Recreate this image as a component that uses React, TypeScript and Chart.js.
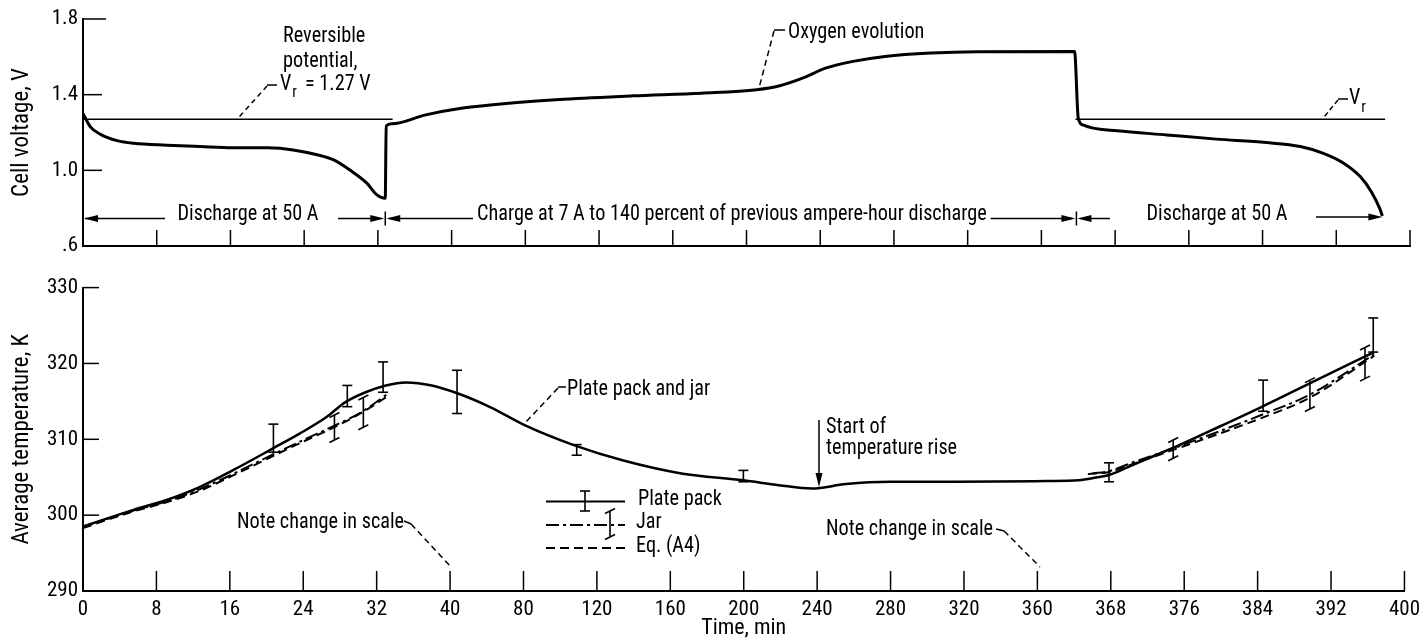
import React, { useEffect, useRef } from 'react';
import { Chart, registerables } from 'chart.js';

Chart.register(...registerables);

// ---------------- axes ----------------
const X_TICK_TIMES = [0, 8, 16, 24, 32, 40, 80, 120, 160, 200, 240, 280, 320, 360, 368, 376, 384, 392, 400];
const X_TICK_LABELS = ['0', '8', '16', '24', '32', '40', '80', '120', '160', '200', '240', '280', '320', '360', '368', '376', '384', '392', '400'];
const VOLT_TICKS = [0.6, 1.0, 1.4, 1.8];
const VOLT_TICK_LABELS = ['.6', '1.0', '1.4', '1.8'];
const TEMP_TICKS = [290, 300, 310, 320, 330];
const TEMP_TICK_LABELS = ['290', '300', '310', '320', '330'];

// ---------------- cell voltage ----------------
const DISCHARGE1_TIME = [0, 0.8, 1.9, 3.7, 5.5, 9.1, 12.7, 16.3, 20.0, 22.8, 25.4, 27.2, 29.0, 30.8, 31.9, 32.8];
const DISCHARGE1_VOLT = [1.30, 1.23, 1.19, 1.157, 1.143, 1.133, 1.126, 1.12, 1.119, 1.108, 1.082, 1.055, 1.0, 0.932, 0.87, 0.852];
const CHARGE_TIME = [32.9, 33.5, 37.2, 46.1, 71, 100.9, 138.3, 175.6, 205.5, 218, 230.4, 242.9, 257.8, 275.2, 300, 325, 363.6];
const CHARGE_VOLT = [1.235, 1.246, 1.293, 1.329, 1.355, 1.376, 1.394, 1.408, 1.426, 1.447, 1.487, 1.54, 1.576, 1.602, 1.62, 1.627, 1.628];
const DISCHARGE2_TIME = [364.0, 364.5, 365.6, 368.2, 373.6, 379.0, 384.4, 388.1, 390.6, 392.8, 394.6, 395.8, 396.7, 397.0];
const DISCHARGE2_VOLT = [1.276, 1.24, 1.223, 1.209, 1.187, 1.165, 1.147, 1.126, 1.09, 1.038, 0.967, 0.887, 0.80, 0.759];
const VR_VALUE = 1.27;
const VR_SPAN_1 = [0, 33.6];
const VR_SPAN_2 = [363.7, 397.3];
const PHASE_BOUNDS = [0, 32.8, 363.8, 397.0];

// ---------------- temperature ----------------
const PLATE_TIME = [0, 5.5, 9.1, 12.7, 16.3, 20.7, 23.6, 26.5, 28.6, 30.8, 33.0, 35.2, 38.0, 43.6, 61.8, 81.2, 107.8, 134.4, 166, 199.8, 219.2, 237.2, 255.6, 279.8, 316, 360.9, 364.5, 366.4, 367.8, 370.0, 372.5, 375.4, 379.0, 384.4, 389.9, 396.7];
const PLATE_TEMP = [298.5, 300.7, 302.0, 303.7, 305.9, 308.8, 310.75, 312.9, 314.9, 316.2, 317.1, 317.5, 317.1, 316.1, 314.25, 311.8, 309.2, 307.2, 305.5, 304.6, 303.95, 303.5, 304.1, 304.4, 304.4, 304.5, 304.6, 304.96, 305.3, 306.4, 307.7, 309.2, 311.2, 314.25, 317.5, 321.5];
const JAR_D1_TIME = [0, 5.5, 9.1, 12.7, 16.3, 20.7, 24.0, 27.4, 30.5, 33.1];
const JAR_D1_TEMP = [298.5, 300.6, 301.8, 303.4, 305.4, 308.0, 309.9, 311.8, 313.7, 315.9];
const JAR_D2_TIME = [366.0, 367.8, 370.5, 374.8, 379.5, 384.4, 389.7, 396.7];
const JAR_D2_TEMP = [305.5, 305.8, 307.0, 308.8, 310.9, 313.2, 315.9, 321.2];
const EQ_D1_TIME = [0, 5.5, 9.1, 12.7, 16.3, 20.7, 24.0, 27.4, 30.5, 33.1];
const EQ_D1_TEMP = [298.3, 300.5, 301.7, 303.2, 305.2, 307.8, 309.7, 311.6, 313.6, 315.6];
const EQ_D2_TIME = [365.5, 367.8, 370.5, 374.8, 379.5, 384.4, 389.7, 396.7];
const EQ_D2_TEMP = [305.4, 305.7, 306.8, 308.6, 310.6, 312.8, 315.5, 321.0];

const PLATE_ERR_TIME = [20.75, 28.8, 32.7, 43.8, 109, 199.8, 367.8, 384.6, 396.6];
const PLATE_ERR_LOW = [308.3, 314.3, 316.2, 313.4, 307.9, 304.4, 304.4, 313.7, 321.5];
const PLATE_ERR_HIGH = [312.0, 317.1, 320.2, 319.1, 309.3, 305.9, 306.9, 317.8, 326.0];
const JAR_ERR_TIME = [27.4, 30.55, 374.8, 389.7, 395.7];
const JAR_ERR_LOW = [309.9, 311.6, 307.5, 314.0, 318.0];
const JAR_ERR_HIGH = [313.2, 315.5, 309.9, 317.8, 322.1];

// ---------------- helpers ----------------
function timeToPos(t: number): number {
  const n = X_TICK_TIMES.length;
  for (let i = 0; i < n - 1; i++) {
    const a = X_TICK_TIMES[i], b = X_TICK_TIMES[i + 1];
    if (t <= b || i === n - 2) return i + (t - a) / (b - a);
  }
  return 0;
}

type FontInfo = { family: string; sx: number; narrow: boolean };
let FONT: FontInfo | null = null;
function getFont(): FontInfo {
  if (FONT) return FONT;
  const ctx = document.createElement('canvas').getContext('2d')!;
  const probe = 'Discharge at 50 A, 0123456789 Wg';
  ctx.font = '20px "Liberation Sans", Arial, sans-serif';
  const target = ctx.measureText(probe).width * 0.82;
  const cands = ['Liberation Sans Narrow', 'Arial Narrow', 'Roboto Condensed', 'DejaVu Sans Condensed', 'Nimbus Sans Narrow'];
  for (const f of cands) {
    ctx.font = '20px monospace'; const a = ctx.measureText(probe).width;
    ctx.font = `20px "${f}", monospace`; const b = ctx.measureText(probe).width;
    ctx.font = '20px serif'; const c = ctx.measureText(probe).width;
    ctx.font = `20px "${f}", serif`; const d = ctx.measureText(probe).width;
    if (Math.abs(a - b) > 0.5 && Math.abs(c - d) > 0.5) {
      const sx = Math.max(0.75, Math.min(1.05, target / b));
      FONT = { family: `"${f}", "Liberation Sans", sans-serif`, sx, narrow: true };
      return FONT;
    }
  }
  FONT = { family: '"Liberation Sans", Arial, sans-serif', sx: 0.82, narrow: false };
  return FONT;
}

const ANN_SIZE = 21.5;

function txt(ctx: CanvasRenderingContext2D, s: string, x: number, y: number, align: CanvasTextAlign = 'left', size = ANN_SIZE): number {
  const f = getFont();
  ctx.save();
  ctx.font = `${size}px ${f.family}`;
  ctx.textAlign = align;
  ctx.textBaseline = 'middle';
  ctx.fillStyle = '#000';
  const w = ctx.measureText(s).width * f.sx;
  ctx.translate(x, y);
  ctx.scale(f.sx, 1);
  ctx.fillText(s, 0, 0);
  ctx.restore();
  return w;
}

function seg(ctx: CanvasRenderingContext2D, x1: number, y1: number, x2: number, y2: number, dash: number[] = [], lw = 1.5) {
  ctx.save();
  ctx.lineWidth = lw;
  ctx.strokeStyle = '#000';
  ctx.setLineDash(dash);
  ctx.beginPath();
  ctx.moveTo(x1, y1);
  ctx.lineTo(x2, y2);
  ctx.stroke();
  ctx.restore();
}

function head(ctx: CanvasRenderingContext2D, tx: number, ty: number, dx: number, dy: number) {
  const L = 14, W = 3.5;
  const bx = tx - dx * L, by = ty - dy * L;
  ctx.save();
  ctx.fillStyle = '#000';
  ctx.beginPath();
  ctx.moveTo(tx, ty);
  ctx.lineTo(bx - dy * W, by + dx * W);
  ctx.lineTo(bx + dy * W, by - dx * W);
  ctx.closePath();
  ctx.fill();
  ctx.restore();
}

function errBar(ctx: CanvasRenderingContext2D, x: number, yLo: number, yHi: number, slanted: boolean) {
  seg(ctx, x, yLo, x, yHi, [], 1.6);
  const h = 5;
  if (slanted) {
    seg(ctx, x - h, yHi + 2.5, x + h, yHi - 2.5, [], 1.6);
    seg(ctx, x - h, yLo + 2.5, x + h, yLo - 2.5, [], 1.6);
  } else {
    seg(ctx, x - h, yHi, x + h, yHi, [], 1.6);
    seg(ctx, x - h, yLo, x + h, yLo, [], 1.6);
  }
}

const pts = (ts: number[], vs: number[]) => ts.map((t, i) => ({ x: timeToPos(t), y: vs[i] }));

const BOTTOM_TOP = 270;
const JAR_DASH = [13, 4, 3, 4];
const EQ_DASH = [9, 5];

// ---------------- plugins ----------------
const topAnn = {
  id: 'topAnn',
  afterDraw(chart: any) {
    const ctx: CanvasRenderingContext2D = chart.ctx;
    const xs = chart.scales.x, ys = chart.scales.y;
    const ca = chart.chartArea;
    const X = (t: number) => xs.getPixelForValue(timeToPos(t));
    for (let i = 1; i < X_TICK_TIMES.length; i++) {
      const px = xs.getPixelForValue(i);
      seg(ctx, px, ca.bottom, px, ca.bottom - 16);
    }
    VOLT_TICKS.slice(1).forEach((v, i) => {
      const py = ys.getPixelForValue(v);
      seg(ctx, ca.left, py, ca.left + (i === 2 ? 23 : 19), py);
    });

    txt(ctx, 'Reversible', 283, 37);
    txt(ctx, 'potential,', 283, 62);
    const wV = txt(ctx, 'V', 280, 85);
    txt(ctx, 'r', 280 + wV + 1, 93, 'left', 16);
    txt(ctx, '= 1.27 V', 305, 85);
    seg(ctx, 267, 85, 277, 85);
    seg(ctx, 267, 86, 238, ys.getPixelForValue(VR_VALUE) - 1, [5, 4]);

    txt(ctx, 'Oxygen evolution', 788, 33);
    seg(ctx, 774, 30, 785, 30);
    seg(ctx, 774, 31, 759, 88, [6, 4]);

    const wV2 = txt(ctx, 'V', 1349, 99);
    txt(ctx, 'r', 1349 + wV2 + 1, 108, 'left', 16);
    seg(ctx, 1338, 99, 1348, 99);
    seg(ctx, 1338, 100, 1323, ys.getPixelForValue(VR_VALUE) - 1, [5, 3]);

    const ay = 218.5;
    const x0 = X(PHASE_BOUNDS[0]), x1 = X(PHASE_BOUNDS[1]), x2 = X(PHASE_BOUNDS[2]), x3 = X(PHASE_BOUNDS[3]);
    seg(ctx, x0 + 2, ay, 165, ay);
    head(ctx, x0 + 1, ay, -1, 0);
    txt(ctx, 'Discharge at 50 A', 248, 215, 'center');
    seg(ctx, 338, ay, x1 - 4, ay);
    head(ctx, x1 - 1, ay, 1, 0);
    seg(ctx, x1, ay - 7, x1, ay + 7);
    head(ctx, x1 + 1, ay, -1, 0);
    seg(ctx, x1 + 4, ay, 473, ay);
    const wc = txt(ctx, 'Charge at 7 A to 140 percent of previous ampere-hour discharge', 477, 215);
    seg(ctx, 477 + wc + 4, ay, x2 - 4, ay);
    head(ctx, x2 - 1, ay, 1, 0);
    seg(ctx, x2, ay - 7, x2, ay + 7);
    head(ctx, x2 + 1, ay, -1, 0);
    seg(ctx, x2 + 4, ay, 1110, ay);
    txt(ctx, 'Discharge at 50 A', 1217, 215, 'center');
    seg(ctx, 1316, ay - 1.5, x3 - 4, ay - 1.5);
    head(ctx, x3, ay - 1.5, 1, 0);
  },
};

const bottomAnn = {
  id: 'bottomAnn',
  afterDraw(chart: any) {
    const ctx: CanvasRenderingContext2D = chart.ctx;
    const xs = chart.scales.x, ys = chart.scales.y;
    const ca = chart.chartArea;
    const X = (t: number) => xs.getPixelForValue(timeToPos(t));
    const Y = (v: number) => ys.getPixelForValue(v);
    for (let i = 1; i < X_TICK_TIMES.length; i++) {
      const px = xs.getPixelForValue(i);
      seg(ctx, px, ca.bottom, px, ca.bottom - 20);
    }
    TEMP_TICKS.slice(1).forEach((v) => {
      const py = Y(v);
      seg(ctx, ca.left, py, ca.left + 16, py);
    });
    PLATE_ERR_TIME.forEach((t, i) => errBar(ctx, X(t), Y(PLATE_ERR_LOW[i]), Y(PLATE_ERR_HIGH[i]), false));
    JAR_ERR_TIME.forEach((t, i) => errBar(ctx, X(t), Y(JAR_ERR_LOW[i]), Y(JAR_ERR_HIGH[i]), true));

    ctx.save();
    ctx.translate(0, -BOTTOM_TOP);
    txt(ctx, 'Plate pack and jar', 567, 390);
    seg(ctx, 558, 387, 566, 387);
    seg(ctx, 558, 388, 525, 423, [6, 4]);
    txt(ctx, 'Start of', 826, 428);
    txt(ctx, 'temperature rise', 826, 449);
    seg(ctx, 819, 420, 819, 478);
    head(ctx, 819, 487, 0, 1);
    const w1 = txt(ctx, 'Note change in scale', 237, 523);
    seg(ctx, 237 + w1, 521, 237 + w1 + 7, 524);
    seg(ctx, 237 + w1 + 7, 524, 451, 567, [6, 4]);
    const w2 = txt(ctx, 'Note change in scale', 826, 530);
    seg(ctx, 826 + w2 + 3, 529, 826 + w2 + 11, 531);
    seg(ctx, 826 + w2 + 11, 531, 1040, 567, [6, 4]);
    seg(ctx, 546, 501.5, 625, 501.5, [], 2);
    errBar(ctx, 585, 511, 491, false);
    txt(ctx, 'Plate pack', 638, 500);
    seg(ctx, 546, 525, 625, 525, JAR_DASH, 2);
    errBar(ctx, 610, 537, 511, true);
    txt(ctx, 'Jar', 636, 523);
    seg(ctx, 546, 548, 625, 548, EQ_DASH, 2);
    txt(ctx, 'Eq. (A4)', 636, 547);
    ctx.restore();
  },
};

function xScale(showLabels: boolean, f: FontInfo, height: number) {
  return {
    type: 'linear',
    min: 0,
    max: X_TICK_TIMES.length - 1,
    afterBuildTicks: (s: any) => { s.ticks = X_TICK_TIMES.map((_, i) => ({ value: i })); },
    afterFit: (s: any) => { s.height = height; },
    ticks: {
      display: showLabels,
      autoSkip: false,
      maxRotation: 0,
      padding: 6,
      color: '#000',
      font: { family: f.family, size: f.narrow ? 21 : 18 },
      callback: (_v: any, i: number) => X_TICK_LABELS[i],
    },
    grid: { display: true, drawOnChartArea: false, drawTicks: false },
    border: { display: true, color: '#000', width: 2 },
    title: showLabels
      ? { display: true, text: 'Time, min', color: '#000', font: { family: f.family, size: f.narrow ? 22 : 19 }, padding: { top: 0, bottom: 0 } }
      : { display: false },
  };
}

function yScale(min: number, max: number, ticks: number[], labels: string[], title: string, f: FontInfo) {
  return {
    type: 'linear',
    min,
    max,
    afterBuildTicks: (s: any) => { s.ticks = ticks.map((v) => ({ value: v })); },
    afterFit: (s: any) => { s.width = 83; },
    ticks: {
      padding: 5,
      color: '#000',
      font: { family: f.family, size: f.narrow ? 21 : 18 },
      callback: (_v: any, i: number) => labels[i],
    },
    grid: { display: true, drawOnChartArea: false, drawTicks: false },
    border: { display: true, color: '#000', width: 2 },
    title: { display: true, text: title, color: '#000', font: { family: f.family, size: f.narrow ? 23 : 20 }, padding: { top: 8, bottom: 0 } },
  };
}

export default function App() {
  const topRef = useRef<HTMLCanvasElement>(null);
  const botRef = useRef<HTMLCanvasElement>(null);

  useEffect(() => {
    const f = getFont();
    const voltData = [
      ...pts(DISCHARGE1_TIME, DISCHARGE1_VOLT),
      ...pts(CHARGE_TIME, CHARGE_VOLT),
      ...pts(DISCHARGE2_TIME, DISCHARGE2_VOLT),
    ];
    const vrData = [
      { x: timeToPos(VR_SPAN_1[0]), y: VR_VALUE },
      { x: timeToPos(VR_SPAN_1[1]), y: VR_VALUE },
      { x: timeToPos((VR_SPAN_1[1] + VR_SPAN_2[0]) / 2), y: null },
      { x: timeToPos(VR_SPAN_2[0]), y: VR_VALUE },
      { x: timeToPos(VR_SPAN_2[1]), y: VR_VALUE },
    ];
    const top = new Chart(topRef.current!, {
      type: 'line',
      data: {
        datasets: [
          { label: 'Cell voltage', data: voltData, borderColor: '#000', borderWidth: 3, pointRadius: 0, cubicInterpolationMode: 'monotone', fill: false },
          { label: 'Vr', data: vrData as any, borderColor: '#000', borderWidth: 1.5, pointRadius: 0, tension: 0, spanGaps: false, fill: false },
        ],
      },
      options: {
        animation: false,
        responsive: false,
        events: [],
        layout: { padding: { top: 19, right: 16, left: 0, bottom: 0 } },
        plugins: { legend: { display: false }, tooltip: { enabled: false } },
        scales: {
          x: xScale(false, f, 24) as any,
          y: yScale(0.6, 1.8, VOLT_TICKS, VOLT_TICK_LABELS, 'Cell voltage, V', f) as any,
        },
      },
      plugins: [topAnn],
    });

    const jarData = [
      ...pts(JAR_D1_TIME, JAR_D1_TEMP),
      { x: timeToPos(200), y: null },
      ...pts(JAR_D2_TIME, JAR_D2_TEMP),
    ];
    const eqData = [
      ...pts(EQ_D1_TIME, EQ_D1_TEMP),
      { x: timeToPos(200), y: null },
      ...pts(EQ_D2_TIME, EQ_D2_TEMP),
    ];
    const bottom = new Chart(botRef.current!, {
      type: 'line',
      data: {
        datasets: [
          { label: 'Plate pack', data: pts(PLATE_TIME, PLATE_TEMP), borderColor: '#000', borderWidth: 2.5, pointRadius: 0, cubicInterpolationMode: 'monotone', fill: false },
          { label: 'Jar', data: jarData as any, borderColor: '#000', borderWidth: 2, borderDash: JAR_DASH, pointRadius: 0, cubicInterpolationMode: 'monotone', spanGaps: false, fill: false },
          { label: 'Eq. (A4)', data: eqData as any, borderColor: '#000', borderWidth: 2, borderDash: EQ_DASH, pointRadius: 0, cubicInterpolationMode: 'monotone', spanGaps: false, fill: false },
        ],
      },
      options: {
        animation: false,
        responsive: false,
        events: [],
        layout: { padding: { top: 17, right: 16, left: 0, bottom: 0 } },
        plugins: { legend: { display: false }, tooltip: { enabled: false } },
        scales: {
          x: xScale(true, f, 51) as any,
          y: yScale(290, 330, TEMP_TICKS, TEMP_TICK_LABELS, 'Average temperature, K', f) as any,
        },
      },
      plugins: [bottomAnn],
    });
    return () => {
      top.destroy();
      bottom.destroy();
    };
  }, []);

  return (
    <div style={{ position: 'absolute', left: 0, top: 0, width: 1426, height: 642, background: '#fff', overflow: 'hidden' }}>
      <canvas ref={topRef} width={1426} height={BOTTOM_TOP} style={{ position: 'absolute', left: 0, top: 0, display: 'block' }} />
      <canvas ref={botRef} width={1426} height={642 - BOTTOM_TOP} style={{ position: 'absolute', left: 0, top: BOTTOM_TOP, display: 'block' }} />
    </div>
  );
}
